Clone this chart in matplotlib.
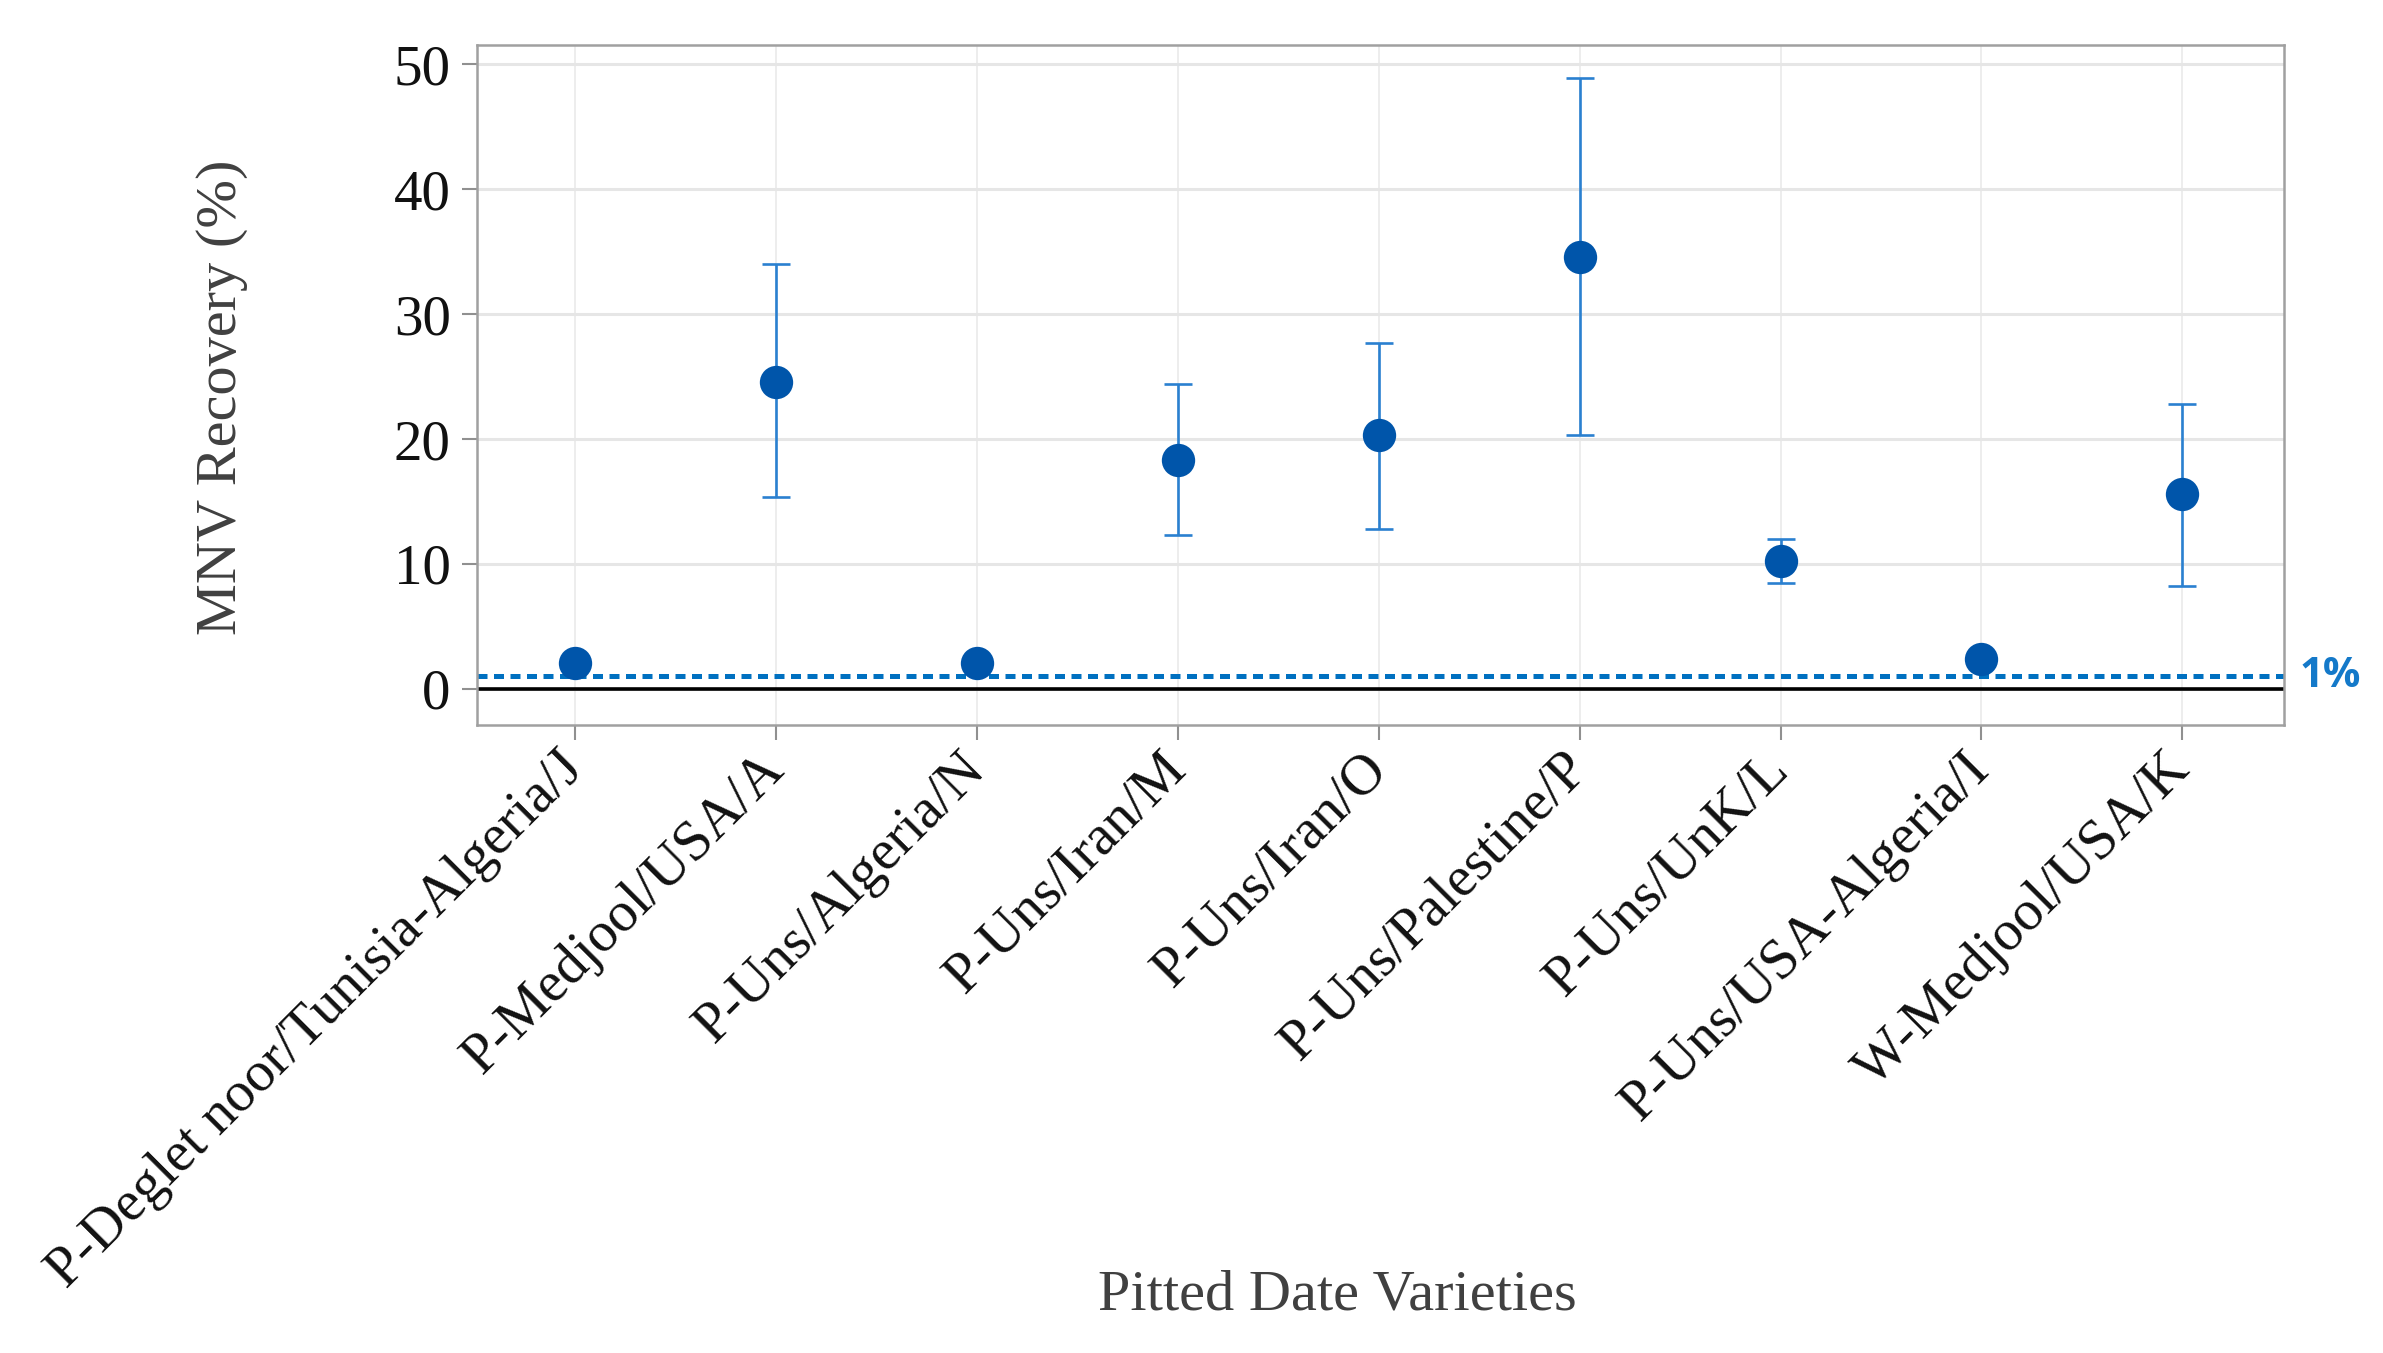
import numpy as np
import matplotlib
matplotlib.use("Agg")
import matplotlib.pyplot as plt
import matplotlib.transforms as mtransforms

categories = [
    "P-Deglet noor/Tunisia-Algeria/J",
    "P-Medjool/USA/A",
    "P-Uns/Algeria/N",
    "P-Uns/Iran/M",
    "P-Uns/Iran/O",
    "P-Uns/Palestine/P",
    "P-Uns/UnK/L",
    "P-Uns/USA-Algeria/I",
    "W-Medjool/USA/K",
]
means = [2.1, 24.6, 2.1, 18.3, 20.3, 34.6, 10.2, 2.4, 15.6]
upper = [None, 34.0, None, 24.4, 27.7, 48.9, 12.0, None, 22.8]
lower = [None, 15.4, None, 12.3, 12.8, 20.3, 8.5, None, 8.2]
threshold = 1.0
yticks = [0, 10, 20, 30, 40, 50]

plt.rcParams['font.family'] = ['Liberation Serif', 'DejaVu Serif']

fig = plt.figure(figsize=(23.83, 13.53), dpi=100)
ax = fig.add_axes([0.2002, 0.4641, 0.7581, 0.503])

x = np.arange(len(categories))

# grid
ax.set_axisbelow(True)
ax.yaxis.grid(True, color='#e6e6e6', linewidth=2.2)
ax.xaxis.grid(True, color='#ececec', linewidth=1.3)

# reference lines
ax.axhline(0, color='black', linewidth=2.6, zorder=2)
ax.axhline(threshold, color='#0070C0', linewidth=3.6, linestyle=(0, (2.0, 1.3)), zorder=2)

# error bars
idx = [i for i in range(len(means)) if upper[i] is not None]
ex = x[idx]
em = np.array([means[i] for i in idx])
eu = np.array([upper[i] for i in idx])
el = np.array([lower[i] for i in idx])
ax.errorbar(ex, em, yerr=[em - el, eu - em], fmt='none', ecolor='#2a80d0',
            elinewidth=1.9, capsize=10, capthick=1.9, zorder=3)

# points
ax.plot(x, means, linestyle='none', marker='o', markersize=24,
        color='#0055AA', markeredgewidth=0, zorder=4)

ax.set_xlim(-0.49, 8.505)
ax.set_ylim(-2.9, 51.6)
ax.set_yticks(yticks)
ax.set_xticks(x)
ax.set_xticklabels(categories, rotation=45, ha='right', va='center',
                   rotation_mode='anchor', fontsize=41)

for sp in ax.spines.values():
    sp.set_color('#a0a0a0')
    sp.set_linewidth(1.8)

ax.tick_params(axis='both', colors='#909090', length=11, width=1.5,
               labelcolor='#111111')
ax.tick_params(axis='y', pad=8, labelsize=41)
ax.tick_params(axis='x', pad=15)

ax.set_ylabel('MNV Recovery (%)', fontsize=42, color='#404040')
ax.yaxis.set_label_coords(-0.141, 0.482)
ax.yaxis.label.set_va('center')

ax.set_xlabel('Pitted Date Varieties', fontsize=42, color='#404040')
ax.xaxis.set_label_coords(0.476, -0.838)
ax.xaxis.label.set_va('center')

trans = mtransforms.blended_transform_factory(ax.transAxes, ax.transData)
ax.text(1.009, threshold, '1%', transform=trans, ha='left', va='center',
        fontsize=30, fontweight='bold', color='#1479C9',
        family=['Open Sans', 'DejaVu Sans'])

fig.savefig('out.png', dpi=100, facecolor='white')
